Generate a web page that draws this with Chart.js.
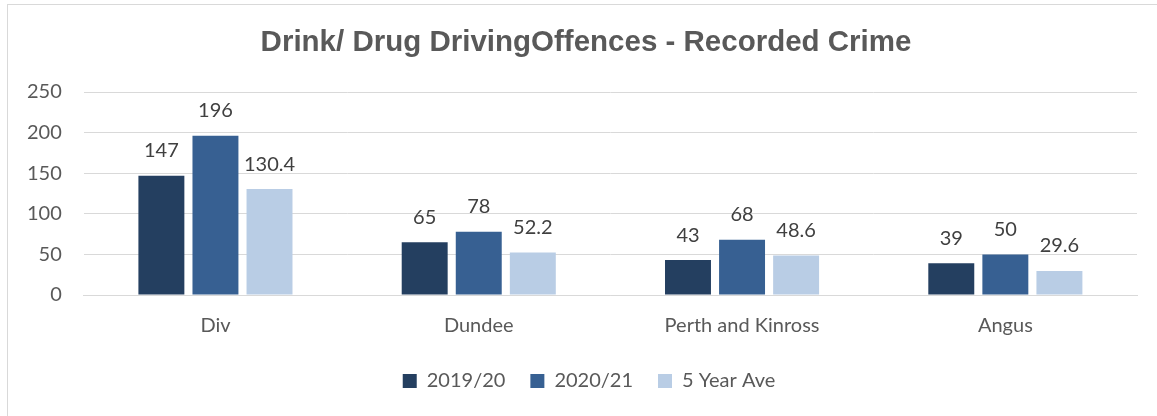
<!DOCTYPE html>
<html>
<head>
<meta charset="utf-8">
<script src="https://cdn.jsdelivr.net/npm/chart.js@4/dist/chart.umd.min.js"></script>
<style>
  html, body { margin: 0; padding: 0; background: #fff; overflow: hidden; }
  #frame { position: absolute; left: 7px; top: 4px; width: 1200px; height: 500px; border: 1px solid #d9d9d9; box-sizing: border-box; }
  #wrap { position: absolute; left: 0; top: 0; width: 1157px; height: 416px; }
</style>
</head>
<body>
<div id="frame"></div>
<div id="wrap"><canvas id="chart"></canvas></div>
<script>
// --- DATA ---
const categories = ['Div', 'Dundee', 'Perth and Kinross', 'Angus'];
const series2019 = [147, 65, 43, 39];
const series2020 = [196, 78, 68, 50];
const series5yr = [130.4, 52.2, 48.6, 29.6];
const seriesNames = ['2019/20', '2020/21', '5 Year Ave'];
const yTicks = [0, 50, 100, 150, 200, 250];
const chartTitle = 'Drink/ Drug DrivingOffences - Recorded Crime';

const textColor = '#595959';
const labelFont = { family: 'Lato, Calibri, sans-serif', size: 20 };

// --- TITLE (centred on the outer frame, not the plot) ---
const frameTitle = {
    id: 'frameTitle',
    afterDraw(chart) {
        const ctx = chart.ctx;
        ctx.save();
        ctx.font = 'bold 29.5px "Liberation Sans", Arial, sans-serif';
        ctx.fillStyle = textColor;
        ctx.textAlign = 'center';
        ctx.textBaseline = 'middle';
        ctx.fillText(chartTitle, 586, 43);
        ctx.restore();
    }
};

// --- nudge legend to line up with the frame centre ---
const legendNudge = {
    id: 'legendNudge',
    afterLayout(chart) {
        const lg = chart.legend;
        if (!lg) return;
        lg.left += 18; lg.right += 18;
        lg.top -= 3; lg.bottom -= 3;
    }
};

// --- VALUE LABELS ABOVE BARS ---
const valueLabels = {
    id: 'valueLabels',
    afterDatasetsDraw(chart) {
        const ctx = chart.ctx;
        ctx.save();
        ctx.font = '20px Lato, Calibri, sans-serif';
        ctx.fillStyle = '#404040';
        ctx.textAlign = 'center';
        ctx.textBaseline = 'middle';
        chart.data.datasets.forEach((ds, i) => {
            chart.getDatasetMeta(i).data.forEach((bar, j) => {
                ctx.fillText(String(ds.data[j]), bar.x, bar.y - 25);
            });
        });
        ctx.restore();
    }
};

new Chart(document.getElementById('chart'), {
    type: 'bar',
    data: {
        labels: categories,
        datasets: [
            { label: seriesNames[0], data: series2019, backgroundColor: '#243F60' },
            { label: seriesNames[1], data: series2020, backgroundColor: '#376092' },
            { label: seriesNames[2], data: series5yr, backgroundColor: '#B9CDE5' }
        ]
    },
    options: {
        responsive: true,
        maintainAspectRatio: false,
        animation: false,
        datasets: { bar: { categoryPercentage: 0.616, barPercentage: 0.85 } },
        layout: { padding: { left: 5, right: 20, top: 92, bottom: 12 } },
        plugins: {
            title: { display: false },
            legend: {
                position: 'bottom',
                labels: { color: textColor, font: labelFont, boxWidth: 14, boxHeight: 14, padding: 25 }
            },
            tooltip: { enabled: false }
        },
        scales: {
            x: {
                grid: { display: false },
                border: { color: '#d9d9d9' },
                ticks: { color: textColor, font: labelFont, padding: 11 }
            },
            y: {
                min: 0, max: 250,
                afterBuildTicks: axis => { axis.ticks = yTicks.map(v => ({ value: v })); },
                grid: { color: '#d9d9d9', drawTicks: false },
                border: { display: false },
                ticks: { color: textColor, font: labelFont, padding: 22 }
            }
        }
    },
    plugins: [valueLabels, frameTitle, legendNudge]
});
</script>
</body>
</html>
